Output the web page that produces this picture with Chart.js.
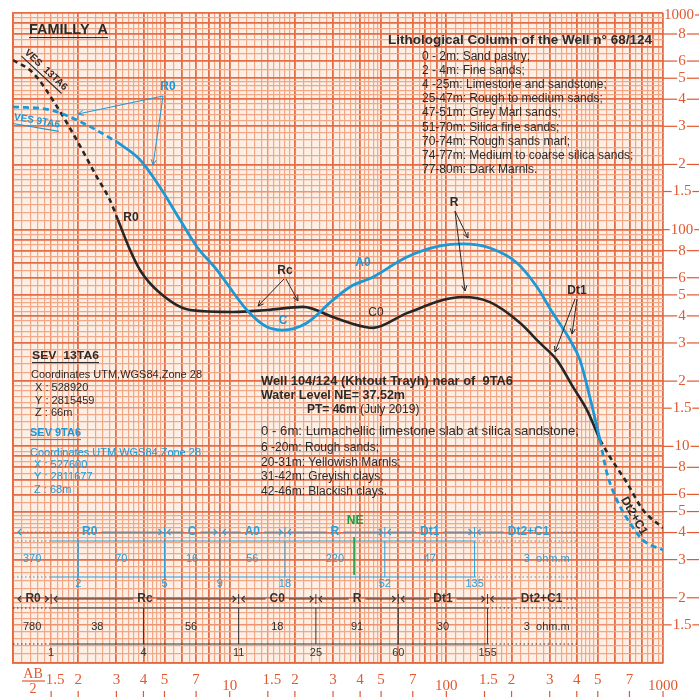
<!DOCTYPE html>
<html>
<head>
<meta charset="utf-8">
<script src="https://cdn.jsdelivr.net/npm/chart.js@4.4.1/dist/chart.umd.min.js"></script>
<style>
  html, body { margin: 0; padding: 0; background: #fff; }
  #wrap { width: 700px; height: 697px; }
</style>
</head>
<body>
<div id="wrap"><canvas id="vesChart" width="700" height="697"></canvas></div>
<script>
// =============================
// Courbes de sondage (AB/2 en m, rho apparente en ohm.m)
// =============================
const blackDashStartX = [1, 1.24, 1.6, 1.97, 2.44, 2.8, 3.05];
const blackDashStartY = [607, 528, 368, 259, 175, 137, 111];
const blackSolidX = [3.05, 3.47, 3.86, 4.77, 6.56, 10.4, 14.9, 21.8, 30, 35.9, 45.9, 65.8, 119, 159, 219, 270, 324, 384, 446, 512];
const blackSolidY = [111, 80.5, 65, 51, 42.6, 41.7, 42.6, 44, 39.5, 37.1, 35.2, 41.2, 48.9, 46.3, 37.1, 30, 25, 18.8, 14.7, 10.7];
const blackDashEndX = [512, 569, 682, 809, 1000];
const blackDashEndY = [10.7, 8.93, 6.78, 5.08, 4.2];

const blueDashStartX = [1, 1.48, 2.1, 3.02];
const blueDashStartY = [369, 357, 311, 254];
const blueSolidX = [3.02, 3.86, 4.77, 5.9, 7.07, 8.74, 12.0, 14.9, 17.6, 22.7, 30, 35.9, 45.9, 65.8, 93.5, 119, 159, 212, 262, 310, 372, 414, 460, 512];
const blueSolidY = [254, 210, 157, 111, 83.2, 65.1, 42.6, 35.5, 34.4, 37.1, 47.4, 54.4, 60.5, 74.8, 84.1, 86, 82.3, 70.2, 54.4, 41.2, 31, 25, 16.8, 10.7];
const blueDashEndX = [512, 551, 613, 704, 809, 1000];
const blueDashEndY = [10.7, 7.53, 5.65, 4.43, 3.69, 3.32];

// =============================
// Tableaux d'interprétation
// =============================
const blueBounds = [2, 5, 9, 18, 52, 135];
const blueRes = ["370", "70", "16", "56", "220", "47", "3  ohm.m"];
const blueLayerBounds = [5, 9, 18, 52, 135];
const blueLayers = ["R0", "C", "A0", "R", "Dt1", "Dt2+C1"];

const blackBounds = [1, 4, 11, 25, 60, 155];
const blackRes = ["780", "38", "56", "18", "91", "30", "3  ohm.m"];
const blackLayerBounds = [1, 11, 25, 60, 155];
const blackLayers = ["R0", "Rc", "C0", "R", "Dt1", "Dt2+C1"];

const waterLevel = 37.52;

// =============================
// Graduations
// =============================
const xLabelValues = [1.5, 2, 3, 4, 5, 7, 10, 15, 20, 30, 40, 50, 70, 100, 150, 200, 300, 400, 500, 700, 1000];
const xLabelText = ["1.5", "2", "3", "4", "5", "7", "10", "1.5", "2", "3", "4", "5", "7", "100", "1.5", "2", "3", "4", "5", "7", "1000"];
const yLabelValues = [1000, 800, 600, 500, 400, 300, 200, 150, 100, 80, 60, 50, 40, 30, 20, 15, 10, 8, 6, 5, 4, 3, 2, 1.5];
const yLabelText = ["1000", "8", "6", "5", "4", "3", "2", "1.5", "100", "8", "6", "5", "4", "3", "2", "1.5", "10", "8", "6", "5", "4", "3", "2", "1.5"];

const BLUE = "#1d98d6";
const INK = "#2b2b2b";
const PAPER_RED = "#e2582f";

// lignes du papier bilogarithmique
function gridValues() {
  const vals = [];
  [1, 10, 100].forEach(d => {
    for (let m = 1; m < 1.999; m += 0.1) vals.push(+(m * d).toFixed(4));
    for (let m = 2; m < 4.999; m += 0.2) vals.push(+(m * d).toFixed(4));
    for (let m = 5; m < 9.999; m += 0.5) vals.push(+(m * d).toFixed(4));
  });
  vals.push(1000);
  return vals;
}
const gridVals = gridValues();

function mantissa(v) {
  const e = Math.floor(Math.log10(v) + 1e-9);
  return v / Math.pow(10, e);
}
function lineKind(v) {
  const m = mantissa(v);
  if (Math.abs(m - Math.round(m)) < 1e-6) return 2;
  if (Math.abs(m * 2 - Math.round(m * 2)) < 1e-6 && m < 5) return 1;
  return 0;
}

const pts = (xs, ys) => xs.map((x, i) => ({ x: x, y: ys[i] }));

// =============================
// Petits utilitaires de dessin
// =============================
function txt(ctx, s, x, y, o) {
  o = o || {};
  ctx.save();
  ctx.font = o.font || "11px 'Liberation Sans', Arial, sans-serif";
  ctx.fillStyle = o.color || INK;
  ctx.textBaseline = "middle";
  ctx.textAlign = "left";
  const w = ctx.measureText(s).width;
  const sx = o.width ? o.width / w : 1;
  ctx.translate(x, y);
  if (o.rot) ctx.rotate(o.rot);
  ctx.scale(sx, 1);
  const ax = o.align === "center" ? -w / 2 : 0;
  ctx.fillText(s, ax, 0);
  if (o.underline) ctx.fillRect(ax, o.ulOff || 6, w, 1.1);
  ctx.restore();
  return w * sx;
}

function arrow(ctx, x1, y1, x2, y2, color) {
  const a = Math.atan2(y2 - y1, x2 - x1);
  ctx.save();
  ctx.strokeStyle = color;
  ctx.lineWidth = 1;
  ctx.beginPath();
  ctx.moveTo(x1, y1);
  ctx.lineTo(x2, y2);
  ctx.moveTo(x2 - 6 * Math.cos(a - 0.45), y2 - 6 * Math.sin(a - 0.45));
  ctx.lineTo(x2, y2);
  ctx.lineTo(x2 - 6 * Math.cos(a + 0.45), y2 - 6 * Math.sin(a + 0.45));
  ctx.stroke();
  ctx.restore();
}

function hline(ctx, x1, x2, y, color, dotted, lw) {
  ctx.save();
  ctx.strokeStyle = color;
  ctx.lineWidth = lw || 1;
  if (dotted) ctx.setLineDash([1.5, 2.5]);
  ctx.beginPath();
  ctx.moveTo(x1, y);
  ctx.lineTo(x2, y);
  ctx.stroke();
  ctx.restore();
}

function vline(ctx, x, y1, y2, color, lw) {
  ctx.save();
  ctx.strokeStyle = color;
  ctx.lineWidth = lw || 1;
  ctx.beginPath();
  ctx.moveTo(x, y1);
  ctx.lineTo(x, y2);
  ctx.stroke();
  ctx.restore();
}

function chevron(ctx, x, y, dir, color) {
  ctx.save();
  ctx.strokeStyle = color;
  ctx.lineWidth = 1.1;
  ctx.beginPath();
  ctx.moveTo(x - 3 * dir, y - 3);
  ctx.lineTo(x, y);
  ctx.lineTo(x - 3 * dir, y + 3);
  ctx.stroke();
  ctx.restore();
}

// =============================
// Tableau (une ligne de couches)
// =============================
function drawTable(ctx, xs, area, t) {
  const start = 1.5, end = 400;
  const px = v => xs.getPixelForValue(Math.max(v, start));
  const left = area.left;
  const xStart = px(start), xEnd = px(end);
  const xLast = px(t.bounds[t.bounds.length - 1]);
  const c = t.color;

  // lignes horizontales
  [t.yTop, t.yBot].forEach(y => {
    hline(ctx, left, xStart, y, c, true);
    hline(ctx, xStart, xLast, y, c, false, 1);
    hline(ctx, xLast, xEnd, y, c, true);
  });

  // verticales + profondeurs
  t.bounds.forEach(b => {
    const x = px(b);
    if (b > start) vline(ctx, x, t.yTop, t.yBot, c, 1);
    txt(ctx, String(b), x, t.yDepth, { align: "center", color: c, font: "11px 'Liberation Sans', Arial" });
  });

  // résistivités
  const edges = [left, ...t.bounds.map(px)];
  t.res.forEach((r, i) => {
    if (i === t.res.length - 1) {
      txt(ctx, r, xEnd - 53, t.yVal, { color: c, font: "11px 'Liberation Sans', Arial" });
      return;
    }
    const a = i === 0 ? left : edges[i];
    const b = i === 0 ? xStart : edges[i + 1];
    txt(ctx, r, (a + b) / 2, t.yVal, { align: "center", color: c, font: "11px 'Liberation Sans', Arial" });
  });

  // en-tête des couches
  const lEdges = [left + 2, ...t.layerBounds.map(px), xEnd];
  const font = "bold 12px 'Liberation Sans', Arial";
  ctx.font = font;
  t.layers.forEach((name, i) => {
    const a = lEdges[i], b = lEdges[i + 1];
    const last = i === t.layers.length - 1;
    const cx = last ? a + 54 : (a + b) / 2;
    const w = ctx.measureText(name).width;
    txt(ctx, name, cx, t.yHead, { align: "center", color: c, font: font });
    if (i > 0) vline(ctx, a, t.yHead - 5, t.yHead + 5, c, 1);
    chevron(ctx, a + 3, t.yHead, -1, c);
    if (cx - w / 2 - 4 > a + 6) hline(ctx, a + 4, cx - w / 2 - 4, t.yHead, c, i === 0 && t.dottedFirst, 1);
    if (last) {
      hline(ctx, cx + w / 2 + 4, b, t.yHead, c, true, 1);
    } else {
      if (b - 6 > cx + w / 2 + 4) hline(ctx, cx + w / 2 + 4, b - 2, t.yHead, c, false, 1);
      chevron(ctx, b - 3, t.yHead, 1, c);
    }
  });
}

// =============================
// Plugin : papier, graduations, annotations
// =============================
const paperPlugin = {
  id: "paper",
  beforeDraw(chart) {
    const { ctx, chartArea: a } = chart;
    ctx.save();
    ctx.fillStyle = "#ffffff";
    ctx.fillRect(0, 0, chart.width, chart.height);
    ctx.fillStyle = "#fcefe5";
    ctx.fillRect(a.left, a.top, a.right - a.left, a.bottom - a.top);
    ctx.restore();
  },
  afterDraw(chart) {
    const { ctx, chartArea: a } = chart;
    const xs = chart.scales.x, ys = chart.scales.y;
    const serif = "15px 'Liberation Serif', 'DejaVu Serif', serif";

    // graduations de droite
    ctx.font = serif;
    yLabelValues.forEach((v, i) => {
      const y = ys.getPixelForValue(v) + (v === 1000 ? 2 : 0);
      const s = yLabelText[i];
      const cx = v === 1000 ? 679 : 682;
      const w = ctx.measureText(s).width;
      txt(ctx, s, cx, y, { align: "center", color: PAPER_RED, font: serif });
      hline(ctx, a.right, cx - w / 2 - 1, y, PAPER_RED, false, 1.2);
      hline(ctx, cx + w / 2 + 1, 699, y, PAPER_RED, false, 1.2);
    });

    // graduations du bas
    xLabelValues.forEach((v, i) => {
      const x = xs.getPixelForValue(v);
      const s = xLabelText[i];
      const decade = s.length >= 2 && s !== "1.5";
      const dx = s === "1.5" ? 4 : 0;
      txt(ctx, s, x + dx, decade ? 686 : 680, { align: "center", color: PAPER_RED, font: serif });
      vline(ctx, x, 691, 697, PAPER_RED, 1.2);
    });
    txt(ctx, "AB", 33, 674, { align: "center", color: PAPER_RED, font: "14px 'Liberation Serif', serif" });
    hline(ctx, 22, 45, 681, PAPER_RED, false, 1.2);
    txt(ctx, "2", 33, 689, { align: "center", color: PAPER_RED, font: "14px 'Liberation Serif', serif" });

    // titres et textes
    const bold = s => "bold " + s + "px 'Liberation Sans', Arial, sans-serif";
    const reg = s => s + "px 'Liberation Sans', Arial, sans-serif";
    txt(ctx, "FAMILLY  A", 29, 30, { font: bold(14), width: 79, underline: true, ulOff: 7 });

    txt(ctx, "Lithological Column of the Well n° 68/124", 388, 41, { font: bold(12), width: 264 });
    const litho = ["0 - 2m: Sand pastry;", "2 - 4m: Fine sands;", "4 -25m: Limestone and sandstone;",
      "25-47m: Rough to medium sands;", "47-51m: Grey Marl sands;", "51-70m: Silica fine sands;",
      "70-74m: Rough sands marl;", "74-77m: Medium to coarse silica sands;", "77-80m: Dark Marnls."];
    const lithoY = [57, 71, 85, 99, 113, 128, 142, 156, 170];
    litho.forEach((s, i) => txt(ctx, s, 422, lithoY[i], { font: reg(12) }));

    txt(ctx, "SEV  13TA6", 32, 356, { font: bold(11), width: 67, underline: true, ulOff: 6 });
    txt(ctx, "Coordinates UTM,WGS84,Zone 28", 31, 375, { font: reg(10.5), width: 171 });
    txt(ctx, " X : 528920", 32, 388, { font: reg(11) });
    txt(ctx, " Y : 2815459", 32, 401, { font: reg(11) });
    txt(ctx, " Z : 66m", 32, 413, { font: reg(11) });
    txt(ctx, "SEV 9TA6", 30, 433, { font: bold(11), color: BLUE, width: 51, underline: true, ulOff: 6 });
    txt(ctx, "Coordinates UTM,WGS84,Zone 28", 30, 453, { font: reg(10.5), color: BLUE, width: 171 });
    txt(ctx, " X : 527600", 31, 465, { font: reg(11), color: BLUE });
    txt(ctx, " Y : 2811677", 31, 477, { font: reg(11), color: BLUE });
    txt(ctx, " Z : 68m", 31, 490, { font: reg(11), color: BLUE });

    txt(ctx, "Well 104/124 (Khtout Trayh) near of  9TA6", 261, 382, { font: bold(12), width: 252 });
    txt(ctx, "Water Level NE= 37.52m", 261, 396, { font: bold(12), width: 144 });
    const wPT = txt(ctx, "PT= 46m", 307, 410, { font: bold(12) });
    txt(ctx, " (July 2019)", 307 + wPT, 410, { font: reg(12) });
    const well = ["0 - 6m: Lumachellic limestone slab at silica sandstone;", "6 -20m: Rough sands;",
      "20-31m: Yellowish Marnls;", "31-42m: Greyish clays;", "42-46m: Blackish clays."];
    const wellY = [432, 448, 463, 477, 492];
    well.forEach((s, i) => txt(ctx, s, 261, wellY[i], { font: reg(12), width: i === 0 ? 318 : undefined }));

    // étiquettes des courbes
    txt(ctx, "VES  13TA6", 46, 70, { font: bold(10), rot: 0.75, align: "center", underline: true, ulOff: 6 });
    txt(ctx, "VES 9TA6", 37, 121, { font: bold(10), rot: 0.17, align: "center", color: BLUE, underline: true, ulOff: 6 });
    txt(ctx, "Dt2+C1", 634, 516, { font: bold(12), rot: 1.05, align: "center" });

    txt(ctx, "R0", 168, 87, { font: bold(12), color: BLUE, align: "center" });
    arrow(ctx, 163, 96, 78, 114, BLUE);
    arrow(ctx, 163, 96, 153, 165, BLUE);
    txt(ctx, "R0", 131, 218, { font: bold(12), align: "center" });
    txt(ctx, "Rc", 285, 271, { font: bold(12), align: "center" });
    arrow(ctx, 284, 279, 258, 306, INK);
    arrow(ctx, 286, 279, 298, 301, INK);
    txt(ctx, "C", 283, 321, { font: bold(12), color: BLUE, align: "center" });
    txt(ctx, "A0", 363, 263, { font: bold(12), color: BLUE, align: "center" });
    txt(ctx, "C0", 376, 313, { font: reg(12), align: "center" });
    txt(ctx, "R", 454, 203, { font: bold(12), align: "center" });
    arrow(ctx, 455, 211, 468, 238, INK);
    arrow(ctx, 455, 211, 465, 291, INK);
    txt(ctx, "Dt1", 577, 291, { font: bold(12), align: "center" });
    arrow(ctx, 575, 299, 555, 352, INK);
    arrow(ctx, 577, 299, 572, 334, INK);

    // tableaux
    drawTable(ctx, xs, a, {
      bounds: blueBounds, res: blueRes, layerBounds: blueLayerBounds, layers: blueLayers,
      color: "#2a9fda", yHead: 532, yTop: 541, yVal: 559, yBot: 577, yDepth: 584, dottedFirst: true
    });
    drawTable(ctx, xs, a, {
      bounds: blackBounds, res: blackRes, layerBounds: blackLayerBounds, layers: blackLayers,
      color: "#333333", yHead: 599, yTop: 608, yVal: 627, yBot: 644, yDepth: 653, dottedFirst: false
    });

    // niveau d'eau NE
    const xNE = xs.getPixelForValue(waterLevel);
    txt(ctx, "NE", xNE + 1, 521, { font: bold(12), color: "#1a9e3c", align: "center" });
    vline(ctx, xNE, 537, 575, "#1a9e3c", 1.6);
  }
};

// =============================
// Graphique
// =============================
function gridScale(pos) {
  return {
    type: "logarithmic",
    position: pos,
    min: 1,
    max: 1000,
    afterBuildTicks: s => { s.ticks = gridVals.map(v => ({ value: v })); },
    ticks: { display: false },
    grid: {
      drawTicks: false,
      color: c => ["#f2a886", "#ee946f", "#e56d45"][lineKind(c.tick.value)],
      lineWidth: c => [1.2, 1.4, 1.8][lineKind(c.tick.value)]
    },
    border: { display: true, color: "#e4673d", width: 1.6 }
  };
}

new Chart(document.getElementById("vesChart"), {
  type: "line",
  data: {
    datasets: [
      { data: pts(blueSolidX, blueSolidY), borderColor: BLUE, borderWidth: 2.8 },
      { data: pts(blueDashStartX, blueDashStartY), borderColor: BLUE, borderWidth: 2.8, borderDash: [6, 4] },
      { data: pts(blueDashEndX, blueDashEndY), borderColor: BLUE, borderWidth: 2.8, borderDash: [6, 4] },
      { data: pts(blackSolidX, blackSolidY), borderColor: "#262626", borderWidth: 2.6 },
      { data: pts(blackDashStartX, blackDashStartY), borderColor: "#262626", borderWidth: 2.6, borderDash: [5, 4] },
      { data: pts(blackDashEndX, blackDashEndY), borderColor: "#262626", borderWidth: 2.6, borderDash: [5, 4] }
    ]
  },
  options: {
    responsive: false,
    animation: false,
    parsing: true,
    layout: { padding: { left: 13, top: 13, right: 37, bottom: 34 } },
    elements: {
      point: { radius: 0 },
      line: { tension: 0.4, cubicInterpolationMode: "monotone", fill: false }
    },
    plugins: { legend: { display: false }, tooltip: { enabled: false } },
    scales: { x: gridScale("bottom"), y: gridScale("left") }
  },
  plugins: [paperPlugin]
});
</script>
</body>
</html>
